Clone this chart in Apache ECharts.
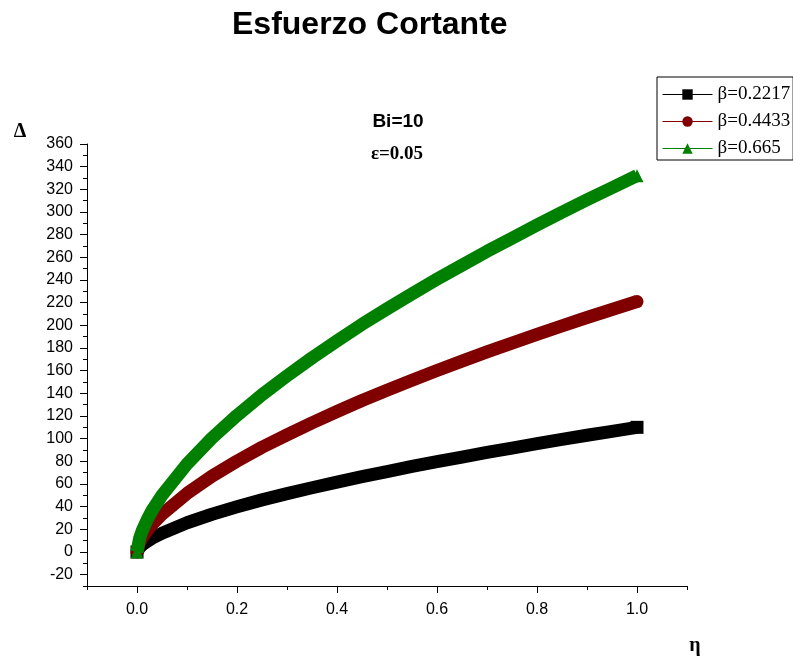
<!DOCTYPE html>
<html>
<head>
<meta charset="utf-8">
<script src="https://cdn.jsdelivr.net/npm/echarts@6/dist/echarts.min.js"></script>
<style>
  html, body { margin: 0; padding: 0; background: #fff; }
  #chart { width: 793px; height: 656px; }
</style>
</head>
<body>
<div id="chart"></div>
<script>
// Shear stress profiles Δ(η) for three values of β (Bi = 10, ε = 0.05)
const eta = [0, 0.005, 0.01, 0.02, 0.03, 0.05, 0.1, 0.15, 0.2, 0.25, 0.3, 0.35, 0.4, 0.45, 0.5,
             0.55, 0.6, 0.65, 0.7, 0.75, 0.8, 0.85, 0.9, 0.95, 1.0];
const deltaBeta1 = [0, 3.9, 6.1, 9.3, 12.1, 16.6, 25.8, 33.3, 39.9, 46, 51.5, 56.7, 61.7, 66.5, 71,
                    75.5, 79.7, 83.8, 87.9, 91.7, 95.6, 99.3, 103, 106.5, 110];
const deltaBeta2 = [0, 7.8, 12.2, 18.8, 24.3, 33.4, 51.7, 67, 80.2, 92.4, 103.4, 114, 124, 133.7, 142.8,
                    151.6, 160.2, 168.4, 176.6, 184.3, 192, 199.6, 206.9, 214, 221];
const deltaBeta3 = [0, 11.8, 18.3, 28.2, 36.5, 50.1, 77.7, 100.6, 120.5, 138.8, 155.4, 171.3, 186.3, 200.9, 214.5,
                    227.8, 240.7, 253, 265.3, 276.9, 288.5, 299.8, 310.8, 321.4, 332];
const seriesNames = ['β=0.2217', 'β=0.4433', 'β=0.665'];
const seriesColors = ['#000000', '#800000', '#008000'];
const seriesSymbols = ['rect', 'circle', 'triangle'];

const xMajor = [0, 0.2, 0.4, 0.6, 0.8, 1.0];
const yMajor = [-20, 0, 20, 40, 60, 80, 100, 120, 140, 160, 180, 200, 220, 240,
                260, 280, 300, 320, 340, 360];

const sans = "'Liberation Sans', Arial, sans-serif";
const serif = "'Liberation Serif', 'Times New Roman', serif";

function makeSeries(idx, values) {
  const last = values.length - 1;
  return {
    name: seriesNames[idx],
    type: 'line',
    data: eta.map((x, i) => [x, values[i]]),
    smooth: false,
    symbol: seriesSymbols[idx],
    symbolSize: (v, p) => (p.dataIndex === 0 || p.dataIndex === last) ? 13 : 0,
    itemStyle: { color: seriesColors[idx] },
    lineStyle: { width: 13, color: seriesColors[idx], cap: 'butt', join: 'round' },
    emphasis: { disabled: true },
    z: 2 + idx,
    silent: true
  };
}

const chart = echarts.init(document.getElementById('chart'), null, { renderer: 'canvas' });

const axisText = { color: '#000', fontFamily: sans, fontSize: 16 };

chart.setOption({
  animation: false,
  backgroundColor: '#fff',
  title: {
    text: 'Esfuerzo Cortante',
    left: 227,
    top: 4,
    textStyle: { fontFamily: sans, fontSize: 32, fontWeight: 'bold', color: '#000' }
  },
  legend: {
    orient: 'vertical',
    left: 657,
    top: 77,
    itemWidth: 50,
    itemHeight: 13,
    itemGap: 8,
    padding: [8, 3, 2, 5],
    borderColor: '#000',
    borderWidth: 1,
    selectedMode: false,
    lineStyle: { width: 1 },
    textStyle: { fontFamily: serif, fontSize: 19, color: '#000' },
    data: seriesNames
  },
  grid: { left: 87, right: 106, top: 144, bottom: 70 },
  xAxis: [{
    type: 'value',
    min: -0.1, max: 1.1, interval: 0.1,
    axisLine: { show: true, onZero: false, lineStyle: { color: '#000', width: 1 } },
    axisTick: { show: true, length: 7, customValues: xMajor, lineStyle: { color: '#000' } },
    axisLabel: { customValues: xMajor, margin: 16, formatter: v => v.toFixed(1), ...axisText },
    splitLine: { show: false }
  }, {
    type: 'value',
    position: 'bottom',
    min: -0.1, max: 1.1, interval: 0.1,
    axisLine: { show: false, onZero: false },
    axisTick: { show: true, length: 4, lineStyle: { color: '#000' } },
    axisLabel: { show: false },
    splitLine: { show: false }
  }],
  yAxis: [{
    type: 'value',
    min: -30, max: 360, interval: 10,
    axisLine: { show: true, onZero: false, lineStyle: { color: '#000', width: 1 } },
    axisTick: { show: true, length: 7, customValues: yMajor, lineStyle: { color: '#000' } },
    axisLabel: { customValues: yMajor, margin: 14, ...axisText },
    splitLine: { show: false }
  }, {
    type: 'value',
    position: 'left',
    min: -30, max: 360, interval: 10,
    axisLine: { show: false, onZero: false },
    axisTick: { show: true, length: 4, lineStyle: { color: '#000' } },
    axisLabel: { show: false },
    splitLine: { show: false }
  }],
  graphic: [
    { type: 'text', x: 398, y: 122, style: { text: 'Bi=10', font: 'bold 19px ' + sans, fill: '#000', align: 'center', verticalAlign: 'middle' } },
    { type: 'text', x: 397, y: 154, style: { text: 'ε=0.05', font: 'bold 19px ' + serif, fill: '#000', align: 'center', verticalAlign: 'middle' } },
    { type: 'text', x: 20, y: 132, style: { text: 'Δ', font: 'bold 20px ' + serif, fill: '#000', align: 'center', verticalAlign: 'middle' } },
    { type: 'text', x: 695, y: 646, style: { text: 'η', font: 'bold 20px ' + serif, fill: '#000', align: 'center', verticalAlign: 'middle' } }
  ],
  series: [
    makeSeries(0, deltaBeta1),
    makeSeries(1, deltaBeta2),
    makeSeries(2, deltaBeta3)
  ]
});
</script>
</body>
</html>
